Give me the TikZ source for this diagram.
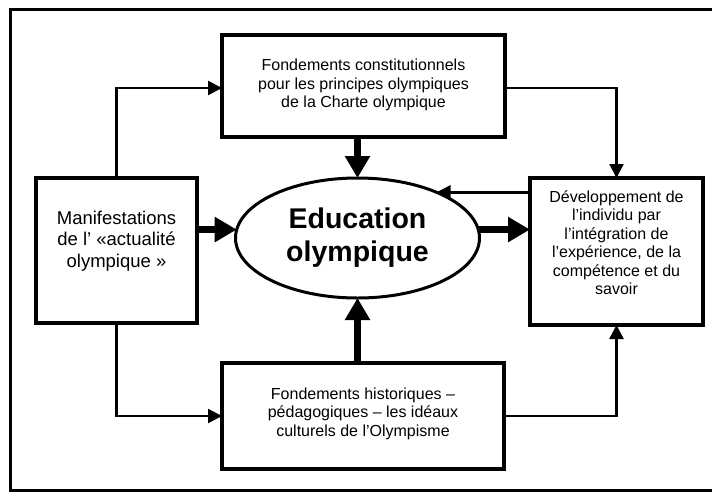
\documentclass[tikz,border=0pt]{standalone}
\usepackage{fontspec}
\setmainfont{Liberation Sans}
\usetikzlibrary{arrows.meta,shapes.geometric}
\begin{document}
\begin{tikzpicture}[x=1pt,y=-1pt,
  boxst/.style={draw, line width=4pt, inner sep=0pt, outer sep=0pt},
  txt/.style={align=center, font=\fontsize{16}{18.5}\selectfont, inner sep=0pt},
  bigtxt/.style={align=center, font=\fontsize{18.5}{21.5}\selectfont, inner sep=0pt},
  thickarr/.style={line width=7pt, -{Triangle[length=22pt,width=24pt]}},
  thinarr/.style={line width=2.4pt, -{Triangle[length=14pt,width=14pt]}},
  line join=miter]
\useasboundingbox (0,0) rectangle (712,493);
\draw[line width=3pt] (716,9) -- (10,9) -- (10,490) -- (716,490);

\node[boxst, minimum width=283pt, minimum height=102pt] (T) at (363.5,86) {};
\node[txt] (Tt) at (363.5,85) {Fondements constitutionnels\\pour les principes olympiques\\de la Charte olympique};

\node[boxst, minimum width=161pt, minimum height=145pt] (L) at (116.5,250.5) {};
\node[bigtxt] (Lt) at (116.5,241) {Manifestations\\de l’ «actualité\\olympique »};

\node[boxst, minimum width=173pt, minimum height=147pt] (R) at (616.5,251.5) {};
\node[txt] (Rt) at (616.5,242.5) {Développement de\\l’individu par\\l’intégration de\\l’expérience, de la\\compétence et du\\savoir};

\node[boxst, minimum width=282pt, minimum height=106pt] (B) at (363,416) {};
\node[txt] (Bt) at (363,413.5) {Fondements historiques –\\pédagogiques – les idéaux\\culturels de l’Olympisme};

\node[ellipse, draw, line width=3pt, minimum width=244pt, minimum height=120pt, inner sep=0pt, outer sep=0pt,
      align=center, font=\fontsize{28.5}{33}\selectfont\bfseries] (E) at (357.5,238) {Education\\olympique};

% thin connectors
\draw[thinarr] (L.north) |- ([yshift=-2pt]T.west);
\draw[thinarr] (L.south) |- (B.west);
\draw[thinarr] ([yshift=-2pt]T.east) -| (R.north);
\draw[thinarr] (B.east) -| (R.south);
\draw[thinarr] (R.west |- E.30.5) -- (E.30.5);

% thick connectors
\draw[thickarr] (E.north |- T.south) -- (E.north);
\draw[thickarr] (E.south |- B.north) -- (E.south);
\draw[thickarr] (L.east |- E.176) -- (E.176);
\draw[thickarr] (E.4) -- (R.west |- E.4);
\end{tikzpicture}
\end{document}
